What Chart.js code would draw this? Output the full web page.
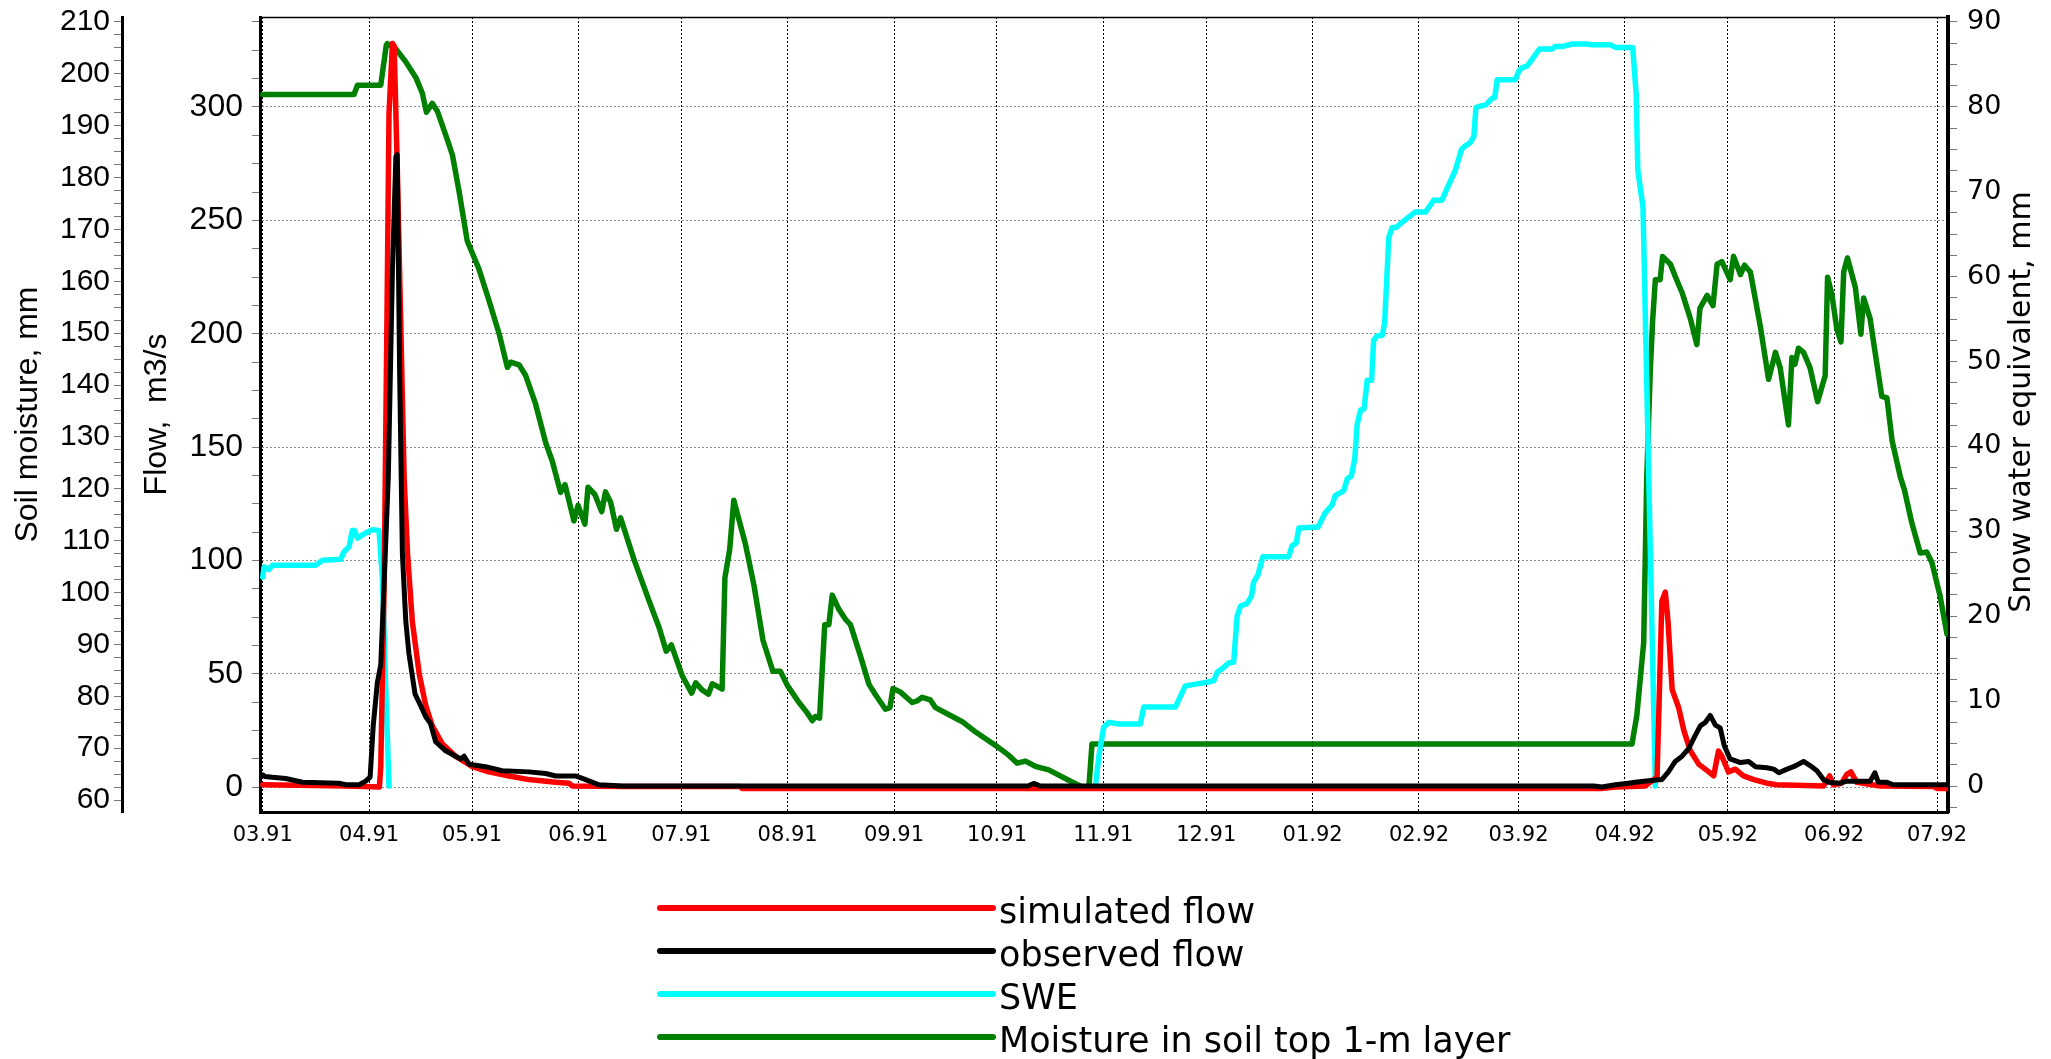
<!DOCTYPE html>
<html>
<head>
<meta charset="utf-8">
<title>Flow, SWE and soil moisture 1991-1992</title>
<script src="https://cdn.jsdelivr.net/npm/chart.js"></script>
<style>
  html, body { margin: 0; padding: 0; background: #fff; }
  canvas { display: block; }
</style>
</head>
<body>
<canvas id="chart" width="2051" height="1059"></canvas>
<script>
// Month tick labels (mm.yy), each one is the 1st of the month
const monthLabels = ['03.91', '04.91', '05.91', '06.91', '07.91', '08.91', '09.91', '10.91',
  '11.91', '12.91', '01.92', '02.92', '03.92', '04.92', '05.92', '06.92', '07.92'];

// Labelled ticks of the three value axes
const soilLabels = [60, 70, 80, 90, 100, 110, 120, 130, 140, 150, 160, 170, 180, 190, 200, 210];
const flowLabels = [0, 50, 100, 150, 200, 250, 300];
const sweLabels = [0, 10, 20, 30, 40, 50, 60, 70, 80, 90];

// Series as [day since 1 March 1991, value]
const simulatedFlow = [
  [0, 1.0], [10, 0.8], [20, 0.6], [30, 0.2], [34, 0], [34.4, 9], [35.4, 91], [36.2, 206],
  [36.8, 297], [37.8, 328], [38.3, 327], [39.2, 274], [40.2, 206], [41.2, 137], [42.2, 103],
  [43.6, 73], [45.6, 50], [47.5, 36], [49.4, 27], [52.4, 19], [56.2, 13.6], [61.1, 9],
  [65.9, 6.7], [71.8, 4.9], [77.6, 3.3], [85.4, 2.1], [89.3, 1.7], [90.2, 0.5], [104.8, 0.3],
  [139, 0.3], [139.8, -0.6], [390, -0.6], [394.3, 0], [403, 0.5], [406.4, 4.4], [407.8, 82],
  [408.8, 86], [409.6, 73], [410.8, 43], [412.7, 35], [414.2, 25], [416.1, 16], [418.6, 10],
  [421.5, 6.7], [422.9, 4.9], [424.3, 15.9], [425.3, 13.6], [427.2, 6.7], [429.2, 7.9],
  [431.6, 4.9], [434.6, 3.3], [438.4, 1.7], [441.3, 1.0], [454.9, 0.5], [456.7, 4.9],
  [457.8, 1.0], [460.2, 1.7], [461.7, 5.6], [462.9, 6.7], [464.6, 2.1], [471.4, 0.5],
  [487, 0.3], [488, -0.6], [491, -0.6]
];

const observedFlow = [
  [0, 5.4], [0.6, 4.7], [2.8, 4.3], [6.7, 3.8], [11.6, 2.1], [22.2, 1.7], [24.2, 1.0],
  [28.1, 1.0], [30.0, 2.6], [31.3, 4.4], [32.2, 27], [33.4, 46], [34.4, 54], [35.4, 91],
  [36.6, 137], [37.8, 228], [38.8, 278], [39.2, 279], [39.9, 183], [40.7, 103], [41.7, 73],
  [42.6, 59], [44.4, 41], [46.0, 36], [47.5, 31], [48.9, 28], [50.4, 20], [53.3, 16],
  [56.2, 13.6], [57.7, 12.4], [58.7, 13.6], [60.1, 10.1], [64.9, 9.0], [69.8, 7.2],
  [77.6, 6.7], [82.5, 6.0], [85.4, 4.9], [91.2, 4.9], [94.1, 3.3], [98.0, 1.0], [104.8, 0.5],
  [223, 0.5], [224.7, 1.6], [226.5, 0.5], [388, 0.5], [390.3, 0], [394.3, 1.0], [398.1, 1.7],
  [400.0, 2.1], [403.9, 2.8], [407.8, 3.3], [409.7, 6.7], [411.7, 11.3], [413.7, 13.6],
  [415.6, 17], [417.5, 22.7], [419.0, 27], [420.4, 28.4], [421.9, 31.6], [423.4, 27.3],
  [424.8, 26.1], [426.0, 18.2], [427.7, 12.4], [430.7, 10.8], [433.1, 11.3], [435.1, 9.0],
  [438.4, 8.5], [440.4, 7.9], [441.9, 6.3], [444.3, 7.9], [446.2, 9.0], [449.1, 11.3],
  [451.0, 9.5], [453.0, 7.2], [454.9, 3.3], [456.4, 2.1], [459.8, 1.7], [461.7, 2.6],
  [468.5, 2.6], [469.9, 6.3], [470.9, 2.1], [473.4, 2.1], [475.3, 1.0], [491, 1.0]
];

// null = no snow, line not drawn
const snowWater = [
  [0, 24.6], [0.4, 25.8], [1.8, 25.5], [2.8, 26.0], [15.4, 26.0], [17.4, 26.6], [22.7, 26.7],
  [23.7, 27.6], [25.2, 28.2], [26.1, 30.1], [26.8, 30.1], [27.6, 29.2], [30.0, 29.8],
  [32.0, 30.2], [33.9, 30.1], [34.9, 24.3], [35.8, 12.1], [36.8, 0], [140, null], [242.7, 0], [243.7, 3.5],
  [245.1, 6.9], [246.6, 7.5], [249.5, 7.3], [255.8, 7.3], [256.8, 9.3], [266.0, 9.3],
  [268.9, 11.8], [271.9, 12.0], [274.8, 12.2], [277.2, 12.4], [278.2, 13.4], [279.6, 13.8],
  [281.6, 14.5], [283.0, 14.6], [284.0, 20.0], [285.0, 21.2], [286.9, 21.5], [288.2, 22.4],
  [288.8, 24.0], [290.1, 24.9], [291.5, 27.0], [299.0, 27.0], [300.0, 28.3], [301.2, 28.6],
  [302.0, 30.4], [307.6, 30.5], [309.7, 32.2], [311.7, 33.1], [312.6, 34.2], [315.1, 34.8],
  [316.1, 36.2], [317.3, 36.5], [318.3, 38.6], [319.0, 42.6], [320.0, 44.3], [321.0, 44.4],
  [321.9, 47.8], [323.2, 47.8], [323.8, 52.5], [324.8, 53.0], [326.3, 53.1], [327.0, 54.5],
  [328.2, 64.6], [329.2, 65.8], [330.4, 65.8], [332.1, 66.4], [334.0, 67.0], [335.9, 67.6],
  [338.9, 67.6], [341.3, 69.0], [343.7, 69.0], [345.2, 70.4], [347.6, 72.5], [349.4, 75.0],
  [350.5, 75.4], [352.0, 75.8], [353.0, 76.5], [353.6, 79.9], [354.9, 80.1], [356.4, 80.2],
  [358.3, 81.0], [359.1, 81.1], [359.8, 83.2], [365.1, 83.2], [366.1, 84.2], [367.0, 84.6],
  [368.5, 84.8], [370.0, 85.6], [372.1, 86.8], [375.8, 86.8], [376.8, 87.1], [378.7, 87.1],
  [381.6, 87.4], [386.0, 87.4], [387.4, 87.3], [392.8, 87.3], [394.3, 87.0], [399.3, 87.0],
  [400.3, 81.6], [400.8, 72.5], [402.3, 68.2], [405.9, 0]
];

const soilMoisture = [
  [0, 196], [26.6, 196], [27.6, 197.8], [34.4, 197.8], [36.0, 205.5], [36.3, 205.8],
  [38.8, 204.8], [41.7, 202.3], [44.6, 199.3], [46.5, 196.3], [47.7, 192.6], [49.4, 194.3],
  [50.9, 192.8], [53.8, 187.3], [55.3, 184.3], [57.2, 177.4], [59.6, 167.8], [61.1, 165.4],
  [63.0, 162.4], [65.9, 156.4], [68.9, 149.9], [71.3, 143.4], [72.3, 144.4], [74.7, 143.9],
  [76.6, 141.9], [79.5, 136.4], [82.5, 128.8], [84.4, 125.3], [86.8, 119.3], [88.1, 120.8],
  [90.7, 113.8], [91.9, 116.8], [93.9, 113.2], [94.8, 120.3], [96.8, 118.9], [98.8, 115.6],
  [99.9, 119.4], [101.4, 117.4], [103.1, 112.2], [104.3, 114.4], [108.2, 106.4], [112.6, 98.4],
  [115.5, 93.3], [117.6, 88.7], [119.1, 89.9], [122.3, 83.9], [125.0, 80.6], [126.2, 82.6],
  [128.1, 81.2], [129.9, 80.4], [131.0, 82.4], [132.5, 81.9], [133.9, 81.4], [134.7, 102.8],
  [136.1, 108.3], [137.3, 117.8], [140.7, 109.3], [143.2, 101.3], [145.8, 90.8], [148.7, 84.8],
  [150.9, 84.8], [152.9, 82.1], [156.3, 78.8], [158.7, 76.8], [160.2, 75.3], [161.1, 76.1],
  [162.3, 75.8], [163.8, 93.8], [165.0, 93.8], [166.0, 99.5], [167.9, 96.8], [169.9, 94.8],
  [171.3, 93.8], [174.2, 87.8], [176.7, 82.3], [178.6, 80.3], [181.5, 77.5], [182.8, 77.8],
  [183.7, 81.5], [185.9, 80.8], [189.3, 78.8], [190.7, 79.1], [192.2, 79.8], [194.6, 79.3],
  [196.1, 77.8], [201.0, 76.1], [203.9, 75.1], [207.8, 73.1], [210.7, 71.8], [214.1, 70.3],
  [217.5, 68.6], [219.9, 67.1], [222.3, 67.5], [225.2, 66.5], [229.1, 65.8], [234.9, 63.8],
  [238.8, 62.5], [240.8, 62.5], [241.7, 70.8], [399.1, 70.8], [400.5, 76.3], [402.5, 90.3],
  [403.4, 122.3], [404.4, 142.3], [405.1, 152.3], [405.9, 160.3], [407.3, 160.3], [408.0, 164.8],
  [410.3, 163.3], [411.8, 160.8], [413.7, 157.8], [416.1, 152.8], [418.0, 147.8], [418.9, 154.8],
  [421.0, 157.3], [422.7, 155.3], [423.9, 163.3], [425.3, 163.8], [427.7, 160.3], [428.7, 164.8],
  [430.7, 161.3], [431.9, 163.1], [433.6, 161.8], [436.5, 151.3], [438.9, 141.1], [440.9, 146.3],
  [442.3, 143.3], [444.7, 132.3], [445.7, 145.3], [446.6, 144.0], [447.6, 147.1], [449.1, 146.3],
  [451.0, 143.3], [453.2, 136.8], [455.4, 141.8], [456.1, 160.8], [457.4, 157.3], [458.8, 150.8],
  [460.0, 148.3], [460.8, 161.8], [461.9, 164.5], [464.2, 158.8], [465.8, 149.8], [466.6, 156.8],
  [468.5, 152.8], [469.5, 148.3], [471.9, 137.8], [473.4, 137.5], [474.9, 129.3], [477.3, 122.3],
  [478.5, 119.8], [480.7, 113.3], [483.1, 107.6], [485.0, 107.8], [486.5, 105.8], [488.9, 99.3],
  [490.9, 92]
];

// day number of the 1st of each labelled month
const dayZero = Date.UTC(1991, 2, 1);
const monthDays = monthLabels.map(l => {
  const [mm, yy] = l.split('.').map(Number);
  return (Date.UTC(1900 + yy, mm - 1, 1) - dayZero) / 86400000;
});

// labelled ticks plus three minor ticks between each pair
function buildTicks(major, min, max) {
  const step = (major[1] - major[0]) / 4;
  const ticks = [];
  for (let v = major[0]; v >= min; v -= step) ticks.unshift({ value: v });
  for (let v = major[0] + step; v <= max; v += step) ticks.push({ value: v });
  return ticks;
}

const toXY = arr => arr.map(([x, y]) => ({ x, y }));

const valueFont = { family: "'Liberation Sans', Arial, sans-serif" };
const dejavu = "'DejaVu Sans', Verdana, sans-serif";

// thin top frame line, right axis title and the legend under the plot
const extras = {
  id: 'extras',
  afterDraw(chart) {
    const { ctx, chartArea } = chart;
    ctx.save();
    ctx.strokeStyle = '#000';
    ctx.lineWidth = 1.5;
    ctx.beginPath();
    ctx.moveTo(chartArea.left, chartArea.top + 0.5);
    ctx.lineTo(chartArea.right, chartArea.top + 0.5);
    ctx.stroke();

    const swe = chart.scales.ySwe;
    ctx.fillStyle = '#000';
    ctx.font = '30px ' + dejavu;
    ctx.textAlign = 'center';
    ctx.textBaseline = 'middle';
    ctx.translate(2022, 402);
    ctx.rotate(-Math.PI / 2);
    ctx.fillText(swe.options.title.text, 0, 0);
    ctx.restore();

    ctx.save();
    ctx.font = '35px ' + dejavu;
    ctx.textAlign = 'left';
    ctx.textBaseline = 'alphabetic';
    chart.data.datasets.forEach((ds, i) => {
      const y = 908 + i * 43;
      ctx.strokeStyle = ds.borderColor;
      ctx.lineWidth = 6;
      ctx.lineCap = 'round';
      ctx.beginPath();
      ctx.moveTo(660, y);
      ctx.lineTo(993, y);
      ctx.stroke();
      ctx.fillStyle = '#000';
      ctx.fillText(ds.label, 999, y + 15);
    });
    ctx.restore();
  }
};

const noPad = s => { s.paddingTop = 0; s.paddingBottom = 0; s.paddingLeft = 0; s.paddingRight = 0; };

new Chart(document.getElementById('chart'), {
  type: 'line',
  data: {
    datasets: [
      { label: 'simulated flow', data: toXY(simulatedFlow), borderColor: '#ff0000', borderWidth: 5.5, yAxisID: 'yFlow', order: 1 },
      { label: 'observed flow', data: toXY(observedFlow), borderColor: '#000000', borderWidth: 5, yAxisID: 'yFlow', order: 0 },
      { label: 'SWE', data: toXY(snowWater), borderColor: '#00ffff', borderWidth: 5.5, yAxisID: 'ySwe', order: 2 },
      { label: 'Moisture in soil top 1-m layer', data: toXY(soilMoisture), borderColor: '#008000', borderWidth: 5.5, yAxisID: 'ySoil', order: 3 }
    ]
  },
  options: {
    responsive: false,
    animation: false,
    devicePixelRatio: 1,
    layout: { padding: { top: 17, left: 0, right: 0, bottom: 0 } },
    elements: {
      point: { radius: 0, hoverRadius: 0 },
      line: { tension: 0, fill: false, borderJoinStyle: 'round', borderCapStyle: 'round' }
    },
    plugins: { legend: { display: false }, tooltip: { enabled: false } },
    scales: {
      x: {
        type: 'linear',
        position: 'bottom',
        min: -0.8,
        max: 491.2,
        afterBuildTicks: s => { s.ticks = monthDays.map(v => ({ value: v })); },
        afterFit: s => { s.height = 247; noPad(s); },
        ticks: {
          autoSkip: false, maxRotation: 0, padding: 11, color: '#000',
          font: { family: dejavu, size: 21 },
          callback: (v, i) => monthLabels[i]
        },
        grid: { color: '#000', lineWidth: 1, drawTicks: false },
        border: { color: '#000', width: 3, dash: [2, 2] }
      },
      yFlow: {
        type: 'linear',
        position: 'left',
        weight: 0,
        min: -11,
        max: 339.7,
        afterBuildTicks: s => { s.ticks = buildTicks(flowLabels, s.min, s.max); },
        afterFit: s => { s.width = 138; noPad(s); },
        ticks: {
          autoSkip: false, padding: 9, color: '#000',
          font: { ...valueFont, size: 32 },
          callback: v => flowLabels.includes(v) ? String(v) : ''
        },
        grid: {
          color: c => (c.tick && flowLabels.includes(c.tick.value)) ? '#8c8c8c' : 'rgba(0,0,0,0)',
          tickColor: '#777', tickLength: 8, lineWidth: 1
        },
        border: { color: '#000', width: 3, dash: [2, 2] },
        title: { display: true, text: 'Flow,  m3/s', color: '#000', font: { ...valueFont, size: 32 }, padding: { top: 16, bottom: 0 } }
      },
      ySoil: {
        type: 'linear',
        position: 'left',
        weight: 1,
        min: 57.69,
        max: 210.95,
        afterBuildTicks: s => { s.ticks = buildTicks(soilLabels, s.min, s.max); },
        afterFit: s => { s.width = 122; noPad(s); },
        ticks: {
          autoSkip: false, padding: 4, color: '#000',
          font: { ...valueFont, size: 30 },
          callback: v => soilLabels.includes(v) ? String(v) : ''
        },
        grid: { drawOnChartArea: false, tickColor: '#777', tickLength: 8 },
        border: { color: '#000', width: 3 },
        title: { display: true, text: 'Soil moisture, mm', color: '#000', font: { ...valueFont, size: 32 }, padding: { top: 9, bottom: 0 } }
      },
      ySwe: {
        type: 'linear',
        position: 'right',
        min: -3.06,
        max: 90.58,
        afterBuildTicks: s => { s.ticks = buildTicks(sweLabels, s.min, s.max); },
        afterFit: s => { s.width = 103; noPad(s); },
        ticks: {
          autoSkip: false, padding: 10, color: '#000',
          font: { family: dejavu, size: 27 },
          callback: v => sweLabels.includes(v) ? String(v) : ''
        },
        grid: { drawOnChartArea: false, tickColor: '#777', tickLength: 9 },
        border: { color: '#000', width: 4 },
        title: { display: false, text: 'Snow water equivalent, mm' }
      }
    }
  },
  plugins: [extras]
});
</script>
</body>
</html>
